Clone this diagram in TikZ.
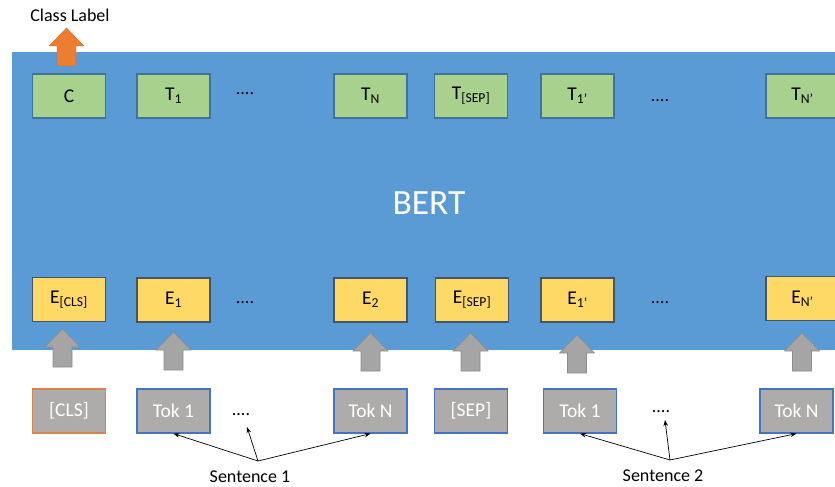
\documentclass[tikz,border=0pt]{standalone}
\usepackage{fontspec}
\setmainfont{Carlito}
\usetikzlibrary{arrows.meta}
\definecolor{bertblue}{HTML}{5B9BD5}
\definecolor{tgreen}{HTML}{A9D18E}
\definecolor{eyellow}{HTML}{FFD966}
\definecolor{tokgray}{HTML}{AEABAB}
\definecolor{arrgray}{HTML}{A5A5A5}
\definecolor{arrgrayb}{HTML}{8C8C8C}
\definecolor{corange}{HTML}{ED7D31}
\definecolor{gborder}{HTML}{41719C}
\definecolor{yborder}{HTML}{44546A}
\definecolor{tborder}{HTML}{4472C4}
\definecolor{clsborder}{HTML}{D9824A}
\begin{document}
\begin{tikzpicture}[x=1pt,y=-1pt,
  box/.style={minimum width=73pt,minimum height=44pt,inner sep=0pt,font=\fontsize{19.5}{22}\selectfont,line width=1.2pt},
  tbox/.style={box,fill=tgreen,draw=gborder},
  ebox/.style={box,fill=eyellow,draw=yborder},
  tokbox/.style={box,fill=tokgray,draw=tborder,text=white},
  dots/.style={font=\fontsize{18}{20}\selectfont,inner sep=1pt,anchor=base},
  lbl/.style={font=\fontsize{18}{21}\selectfont,inner sep=0pt},
  sarrow/.style={-{Stealth[length=6pt,width=4.5pt]},line width=0.7pt},
  blockup/.pic={\path[pic actions] (0,0) -- (17.5,18) -- (9.5,18) -- (9.5,38) -- (-9.5,38) -- (-9.5,18) -- (-17.5,18) -- cycle;},
  grayarrow/.style={fill=arrgray,draw=arrgrayb,line width=0.6pt},
  orangearrow/.style={fill=corange,draw=corange!85!black,line width=0.4pt}
]
\useasboundingbox (0,0) rectangle (835,487);
\clip (0,0) rectangle (835,487);

% BERT block
\fill[bertblue] (12,52) rectangle (845,350);
\node[text=white,font=\fontsize{35.5}{40}\selectfont,inner sep=0pt] (bert) at (429,203) {BERT};

% class label
\pic[orangearrow] at (66.5,28) {blockup};
\node[lbl] (classlbl) at (70,15) {Class Label};

% top row
\node[tbox] (c) at (69,96) {C};
\node[tbox] (t1) at (173.5,96) {T\textsubscript{1}};
\node[dots] (tdots1) at (245,94) {....};
\node[tbox] (tn) at (370.5,96) {T\textsubscript{N}};
\node[tbox] (tsep) at (471,96) {T\textsubscript{[SEP]}};
\node[tbox] (t1p) at (577.5,96) {T\textsubscript{1’}};
\node[dots] (tdots2) at (660,101) {....};
\node[tbox] (tnp) at (802.5,96) {T\textsubscript{N’}};

% embedding row
\node[ebox] (ecls) at (69,299.5) {E\textsubscript{[CLS]}};
\node[ebox] (e1) at (173.5,300) {E\textsubscript{1}};
\node[dots] (edots1) at (245,303) {....};
\node[ebox] (e2) at (370.5,300) {E\textsubscript{2}};
\node[ebox] (esep) at (472,300) {E\textsubscript{[SEP]}};
\node[ebox] (e1p) at (577.5,300) {E\textsubscript{1’}};
\node[dots] (edots2) at (660,303) {....};
\node[ebox] (enp) at (802.5,298.5) {E\textsubscript{N’}};

% gray block arrows
\pic[grayarrow] at (62.5,329) {blockup};
\pic[grayarrow] at (173.5,332) {blockup};
\pic[grayarrow] at (370.5,333) {blockup};
\pic[grayarrow] at (470.5,333) {blockup};
\pic[grayarrow] at (577,335) {blockup};
\pic[grayarrow] at (802,333) {blockup};

% tokens
\node[tokbox,draw=clsborder] (tcls) at (69,411) {[CLS]};
\node[tokbox] (tok1) at (173.5,411) {Tok 1};
\node[dots] (bdots1) at (241,415) {....};
\node[tokbox] (tokn) at (370.5,411) {Tok N};
\node[tokbox] (tsepb) at (471,411) {[SEP]};
\node[tokbox] (tok1p) at (580,411) {Tok 1};
\node[dots] (bdots2) at (661,412) {....};
\node[tokbox] (toknp) at (796.5,411) {Tok N};

% sentence labels and pointers
\coordinate (s1) at (258,461);
\coordinate (s2) at (670,460);
\node[lbl] (sent1) at (250,477) {Sentence 1};
\node[lbl] (sent2) at (663,476) {Sentence 2};
\draw[sarrow] (s1) -- (tok1.south);
\draw[sarrow] (s1) -- (247,427);
\draw[sarrow] (s1) -- (tokn.south);
\draw[sarrow] (s2) -- (tok1p.south);
\draw[sarrow] (s2) -- (665,420);
\draw[sarrow] (s2) -- (toknp.south);
\end{tikzpicture}
\end{document}
